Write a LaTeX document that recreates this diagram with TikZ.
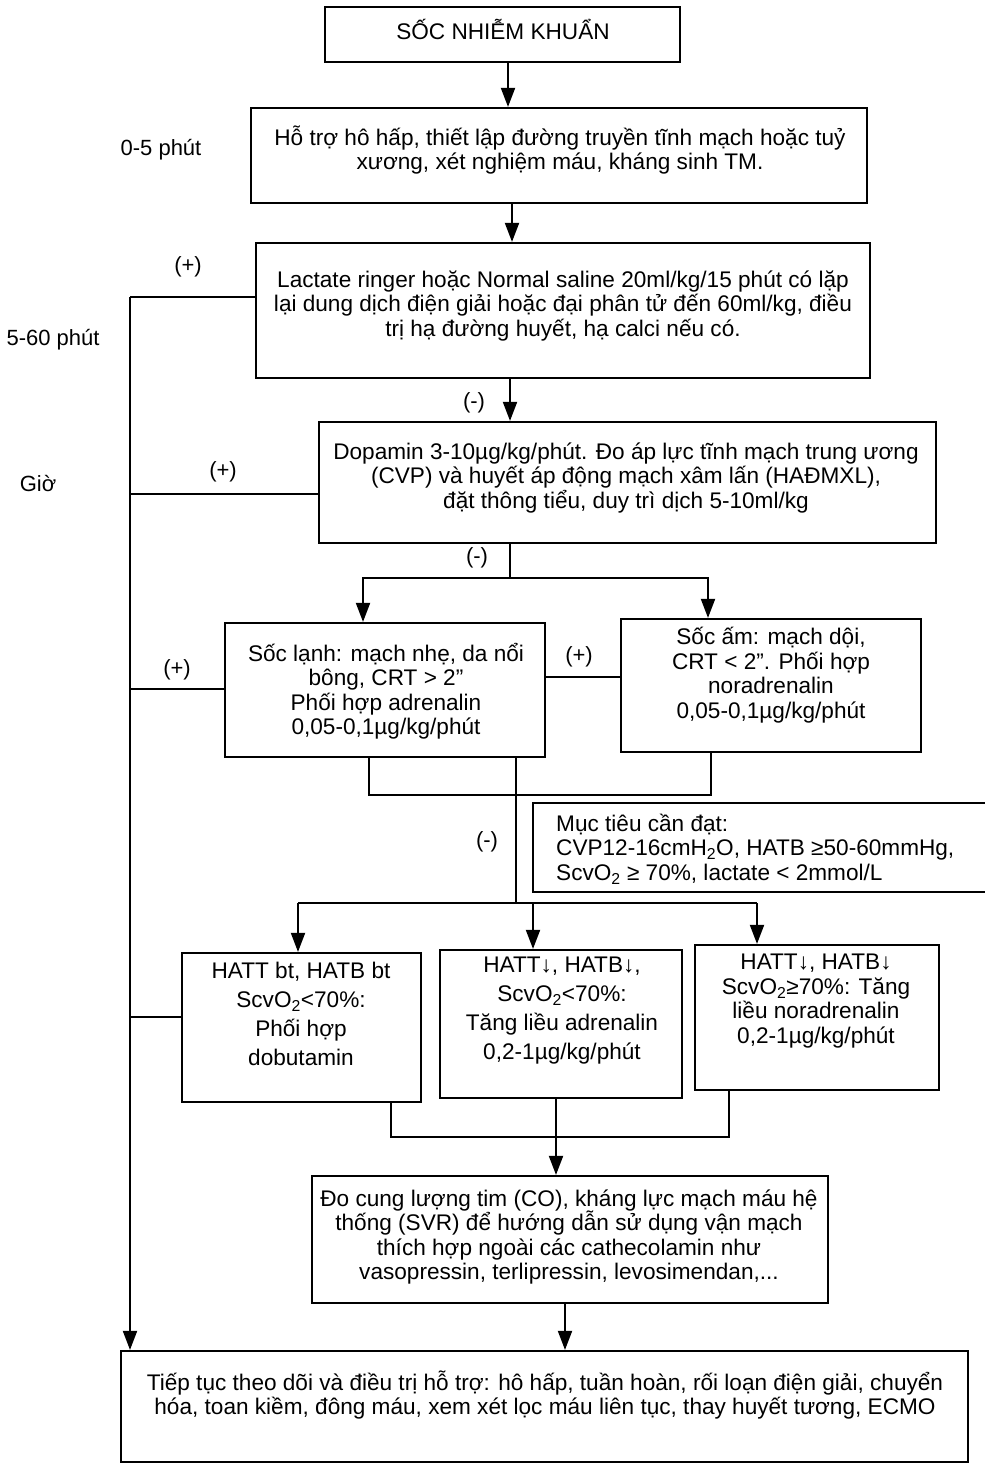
\documentclass[tikz,border=0pt]{standalone}
\usepackage{fontspec}
\setmainfont{Liberation Sans}
\usetikzlibrary{arrows.meta}
\begin{document}
\begin{tikzpicture}[x=1pt,y=-1pt,
  box/.style={draw, line width=2.2pt, inner sep=0pt},
  conn/.style={line width=1.9pt},
  arr/.style={conn, -{Triangle[length=19pt,width=14pt]}},
  txt/.style={align=center, inner sep=0pt, font=\fontsize{22.6}{24.5}\selectfont},
  txtwide/.style={align=center, inner sep=0pt, font=\fontsize{22.6}{29}\selectfont},
  tag/.style={inner sep=0pt, font=\fontsize{22}{24.5}\selectfont},
]
\useasboundingbox (0,0) rectangle (985,1468);

% boxes
\node[box, minimum width=355pt, minimum height=55pt]  (b1)  at (502.5,34.5)  {};
\node[box, minimum width=616pt, minimum height=95pt]  (b2)  at (559,155.5)   {};
\node[box, minimum width=614pt, minimum height=135pt] (b3)  at (563,310.5)   {};
\node[box, minimum width=617pt, minimum height=121pt] (b4)  at (627.5,482.5) {};
\node[box, minimum width=320pt, minimum height=134pt] (b5)  at (385,690)     {};
\node[box, minimum width=300pt, minimum height=133pt] (b6)  at (771,685.5)   {};
\node[box, minimum width=477pt, minimum height=89pt]  (b7)  at (771.5,847.5) {};
\node[box, minimum width=239pt, minimum height=149pt] (b8)  at (301.5,1027.5){};
\node[box, minimum width=242pt, minimum height=148pt] (b9)  at (561,1024)    {};
\node[box, minimum width=244pt, minimum height=145pt] (b10) at (817,1017.5)  {};
\node[box, minimum width=516pt, minimum height=127pt] (b11) at (570,1239.5)  {};
\node[box, minimum width=847pt, minimum height=111pt] (b12) at (544.5,1406.5){};

% box texts
\node[txt] (t1) at (503,29) {SỐC NHIỄM KHUẨN};
\node[txt] (t2) at (560,150) {Hỗ trợ hô hấp, thiết lập đường truyền tĩnh mạch hoặc tuỷ\\xương, xét nghiệm máu, kháng sinh TM.};
\node[txt] (t3) at (563,306) {Lactate ringer hoặc Normal saline 20ml/kg/15 phút có lặp\\lại dung dịch điện giải hoặc đại phân tử đến 60ml/kg, điều\\trị hạ đường huyết, hạ calci nếu có.};
\node[txt] (t4) at (626,478) {Dopamin 3-10µg/kg/phút. Đo áp lực tĩnh mạch trung ương\\(CVP) và huyết áp động mạch xâm lấn (HAĐMXL),\\đặt thông tiểu, duy trì dịch 5-10ml/kg};
\node[txt] (t5) at (386,691) {Sốc lạnh: mạch nhẹ, da nổi\\bông, CRT > 2”\\Phối hợp adrenalin\\0,05-0,1µg/kg/phút};
\node[txt] (t6) at (771,675) {Sốc ấm: mạch dội,\\CRT < 2”. Phối hợp\\noradrenalin\\0,05-0,1µg/kg/phút};
\node[txt, align=left, anchor=west] (t7) at (556,849) {Mục tiêu cần đạt:\\CVP12-16cmH\textsubscript{2}O, HATB ≥50-60mmHg,\\ScvO\textsubscript{2} ≥ 70\%, lactate < 2mmol/L};
\node[txtwide] (t8) at (301,1014) {HATT bt, HATB bt\\ScvO\textsubscript{2}<70\%:\\Phối hợp\\dobutamin};
\node[txtwide] (t9) at (562,1011) {HATT↓, HATB↓,\\ScvO\textsubscript{2}<70\%:\\Tăng liều adrenalin\\0,2-1µg/kg/phút};
\node[txt] (t10) at (816,1001) {HATT↓, HATB↓\\ScvO\textsubscript{2}≥70\%: Tăng\\liều noradrenalin\\0,2-1µg/kg/phút};
\node[txt] (t11) at (569,1237) {Đo cung lượng tim (CO), kháng lực mạch máu hệ\\thống (SVR) để hướng dẫn sử dụng vận mạch\\thích hợp ngoài các cathecolamin như\\vasopressin, terlipressin, levosimendan,...};
\node[txt] (t12) at (545,1395) {Tiếp tục theo dõi và điều trị hỗ trợ: hô hấp, tuần hoàn, rối loạn điện giải, chuyển\\hóa, toan kiềm, đông máu, xem xét lọc máu liên tục, thay huyết tương, ECMO};

% time column
\node[tag] (time1) at (161,150) {0-5 phút};
\node[tag] (time2) at (53,340)  {5-60 phút};
\node[tag] (time3) at (38,483)  {Giờ};

% branch labels
\node[tag] (p1) at (188,267) {(+)};
\node[tag] (n1) at (474,403) {(-)};
\node[tag] (p2) at (223,472) {(+)};
\node[tag] (n2) at (477,558) {(-)};
\node[tag] (p3) at (177,670) {(+)};
\node[tag] (p4) at (579,657) {(+)};
\node[tag] (n3) at (487,842) {(-)};

% reference points for connectors
\coordinate (xa) at (508,0);
\coordinate (xb) at (512,0);
\coordinate (xc) at (510,0);
\coordinate (xe) at (565,0);
\coordinate (tr0) at (130,297);
\coordinate (h1) at (130,494);
\coordinate (h2) at (130,689);
\coordinate (h3) at (130,1017);
\coordinate (s1) at (510,578);
\coordinate (s1l) at (363,578);
\coordinate (s1r) at (708,578);
\coordinate (mid) at (0,677);
\coordinate (j1) at (369,795);
\coordinate (j2) at (711,795);
\coordinate (d1) at (516,903);
\coordinate (s2l) at (298,903);
\coordinate (s2m) at (533,903);
\coordinate (s2r) at (757,903);
\coordinate (k1) at (391,1137);
\coordinate (k2) at (729,1137);
\coordinate (k3) at (556,1137);

% main column
\draw[arr] (b1.south -| xa) -- (b2.north -| xa);
\draw[arr] (b2.south -| xb) -- (b3.north -| xb);
\draw[arr] (b3.south -| xc) -- (b4.north -| xc);

% left trunk (+)
\draw[conn] (b3.west |- tr0) -- (tr0);
\draw[arr] (tr0) -- (b12.north -| tr0);
\draw[conn] (h1) -- (b4.west |- h1);
\draw[conn] (h2) -- (b5.west |- h2);
\draw[conn] (h3) -- (b8.west |- h3);

% cold / warm shock split
\draw[conn] (b4.south -| s1) -- (s1);
\draw[arr] (s1) -- (s1l) -- (b5.north -| s1l);
\draw[arr] (s1) -- (s1r) -- (b6.north -| s1r);
\draw[conn] (b5.east |- mid) -- (b6.west |- mid);
\draw[conn] (b5.south -| j1) -- (j1) -- (j2) -- (b6.south -| j2);

% (-) branch to three boxes
\draw[conn] (b5.south -| d1) -- (d1);
\draw[conn] (s2l) -- (s2r);
\draw[arr] (s2l) -- (b8.north -| s2l);
\draw[arr] (s2m) -- (b9.north -| s2m);
\draw[arr] (s2r) -- (b10.north -| s2r);

% merge into monitoring
\draw[conn] (b8.south -| k1) -- (k1) -- (k2) -- (b10.south -| k2);
\draw[arr] (b9.south -| k3) -- (b11.north -| k3);
\draw[arr] (b11.south -| xe) -- (b12.north -| xe);
\end{tikzpicture}
\end{document}
